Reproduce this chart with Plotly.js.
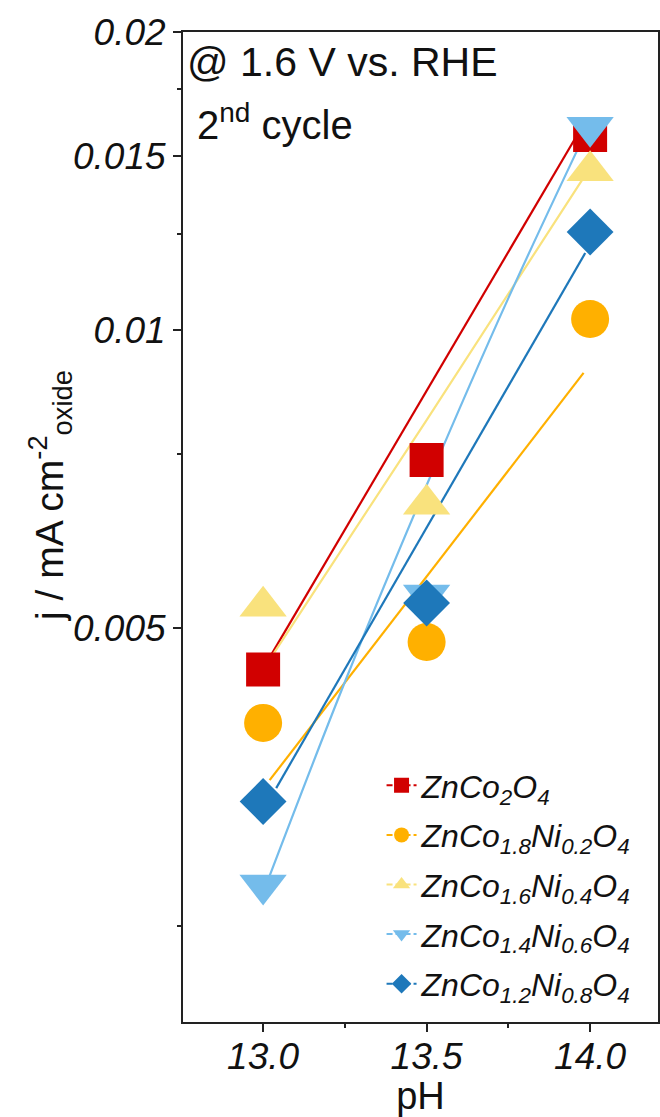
<!DOCTYPE html>
<html>
<head>
<meta charset="utf-8">
<script src="https://cdn.plot.ly/plotly-3.0.1.min.js"></script>
<style>html,body{margin:0;padding:0;background:#fff;}#chart{width:660px;height:1117px;}</style>
</head>
<body>
<div id="chart"></div>
<script>
// ---- data ----
const pH = [13.0, 13.5, 14.0];
const seriesNames = [
  'ZnCo<sub>2</sub>O<sub>4</sub>',
  'ZnCo<sub>1.8</sub>Ni<sub>0.2</sub>O<sub>4</sub>',
  'ZnCo<sub>1.6</sub>Ni<sub>0.4</sub>O<sub>4</sub>',
  'ZnCo<sub>1.4</sub>Ni<sub>0.6</sub>O<sub>4</sub>',
  'ZnCo<sub>1.2</sub>Ni<sub>0.8</sub>O<sub>4</sub>'
];
const jZnCo2O4     = [0.00454, 0.00739, 0.01574];
const jZnCo18Ni02  = [0.00401, 0.00484, 0.01026];
const jZnCo16Ni04  = [0.00526, 0.00667, 0.01448];
const jZnCo14Ni06  = [0.00275, 0.00540, 0.01603];
const jZnCo12Ni08  = [0.00334, 0.00530, 0.01256];

// fitted lines
const fitXZnCo2O4    = [13.0, 13.96];
const fitZnCo2O4     = [0.00455, 0.01573];
const fitXZnCo18Ni02 = [13.02, 13.98];
const fitZnCo18Ni02  = [0.00351, 0.00905];
const fitXZnCo16Ni04 = [13.0, 13.5, 14.0];
const fitZnCo16Ni04  = [0.00454, 0.00811, 0.01459];
const fitXZnCo14Ni06 = [13.0, 13.25, 13.5, 13.75, 14.0];
const fitZnCo14Ni06  = [0.00270, 0.00441, 0.00697, 0.01077, 0.01618];
const fitXZnCo12Ni08 = [13.04, 13.985];
const fitZnCo12Ni08  = [0.003446, 0.01196];

const yTickVals = [0.005, 0.01, 0.015, 0.02];
const yTickText = ['0.005', '0.01', '0.015', '0.02'];
const yMinorVals = [0.0025, 0.0075, 0.0125, 0.0175];
const xTickVals = [13.0, 13.5, 14.0];
const xTickText = ['13.0', '13.5', '14.0'];
const xMinorVals = [13.25, 13.75];

// ---- styling ----
const colors = ['#D10000', '#FFB000', '#F9E27D', '#74BCEB', '#1E78BA'];
const symbols = ['square', 'circle', 'triangle-up', 'triangle-down', 'diamond'];
const sizes = [34, 38, 41, 41, 36];
const FONT = 'Liberation Sans, Arial, sans-serif';
const AX = '#222';

const markerData = [jZnCo2O4, jZnCo18Ni02, jZnCo16Ni04, jZnCo14Ni06, jZnCo12Ni08];
const fitData = [
  [fitXZnCo2O4, fitZnCo2O4], [fitXZnCo18Ni02, fitZnCo18Ni02], [fitXZnCo16Ni04, fitZnCo16Ni04],
  [fitXZnCo14Ni06, fitZnCo14Ni06], [fitXZnCo12Ni08, fitZnCo12Ni08]
];

const traces = [];
fitData.forEach((f, i) => {
  traces.push({
    x: f[0], y: f[1], type: 'scatter', mode: 'lines',
    line: {color: colors[i], width: 2.2, shape: 'spline'},
    showlegend: false, hoverinfo: 'skip'
  });
});
markerData.forEach((d, i) => {
  traces.push({
    x: pH, y: d, type: 'scatter', mode: 'markers',
    marker: {symbol: symbols[i], size: sizes[i], color: colors[i], line: {width: 0}},
    showlegend: false
  });
});
// legend entries
seriesNames.forEach((n, i) => {
  traces.push({
    x: [null], y: [null], type: 'scatter', mode: 'lines+markers', name: n,
    legendgroup: 'g' + i,
    line: {color: colors[i], width: 2, dash: '6px,3px'},
    marker: {symbol: symbols[i], size: 15, color: colors[i]}
  });
});

const layout = {
  width: 660, height: 1117,
  margin: {l: 183, r: 2, t: 32, b: 95},
  paper_bgcolor: '#fff', plot_bgcolor: '#fff',
  font: {family: FONT, color: AX},
  showlegend: true,
  legend: {
    x: 0.418, y: (1022 - 758) / 990, xanchor: 'left', yanchor: 'top',
    bgcolor: 'rgba(0,0,0,0)', borderwidth: 0,
    font: {family: FONT, size: 32, style: 'italic', color: '#111'},
    traceorder: 'grouped', tracegroupgap: 5
  },
  xaxis: {
    range: [12.755, 14.2076],
    tickmode: 'array', tickvals: xTickVals, ticktext: xTickText,
    ticks: 'outside', ticklen: 8, tickwidth: 2, tickcolor: AX,
    showline: true, linecolor: AX, linewidth: 2, mirror: true,
    showgrid: false, zeroline: false,
    tickfont: {family: FONT, size: 37, style: 'italic', color: '#111'},
    ticklabelstandoff: -7,
    minor: {tickmode: 'array', tickvals: xMinorVals, ticks: 'outside', ticklen: 4, tickwidth: 2, tickcolor: AX, showgrid: false},
    title: {text: 'pH', font: {family: FONT, size: 38, color: '#111'}, standoff: 2}
  },
  yaxis: {
    type: 'log',
    range: [Math.log10(0.002), Math.log10(0.02)],
    tickmode: 'array', tickvals: yTickVals, ticktext: yTickText,
    ticks: 'outside', ticklen: 8, tickwidth: 2, tickcolor: AX,
    showline: true, linecolor: AX, linewidth: 2, mirror: true,
    showgrid: false, zeroline: false,
    tickfont: {family: FONT, size: 37, style: 'italic', color: '#111'},
    minor: {tickmode: 'array', tickvals: yMinorVals, ticks: 'outside', ticklen: 4, tickwidth: 2, tickcolor: AX, showgrid: false},
    title: {text: ''}
  },
  annotations: [
    {xref: 'paper', yref: 'paper', x: 0.005, y: (1022 - 62) / 990, xanchor: 'left', yanchor: 'middle',
     text: '@ 1.6 V vs. RHE', showarrow: false, font: {family: FONT, size: 41, color: '#111'}},
    {xref: 'paper', yref: 'paper', x: 0.025, y: (1022 - 122) / 990, xanchor: 'left', yanchor: 'middle',
     text: '2<sup>nd</sup> cycle', showarrow: false, font: {family: FONT, size: 40, color: '#111'}},
    {xref: 'paper', yref: 'paper', x: (50 - 183) / 475, y: (1022 - 496) / 990, xanchor: 'center', yanchor: 'middle',
     textangle: -90, text: 'j / mA cm<sup>-2</sup><sub>oxide</sub>', showarrow: false,
     font: {family: FONT, size: 39, color: '#111'}}
  ]
};

Plotly.newPlot('chart', traces, layout, {displayModeBar: false, staticPlot: true});
</script>
</body>
</html>
